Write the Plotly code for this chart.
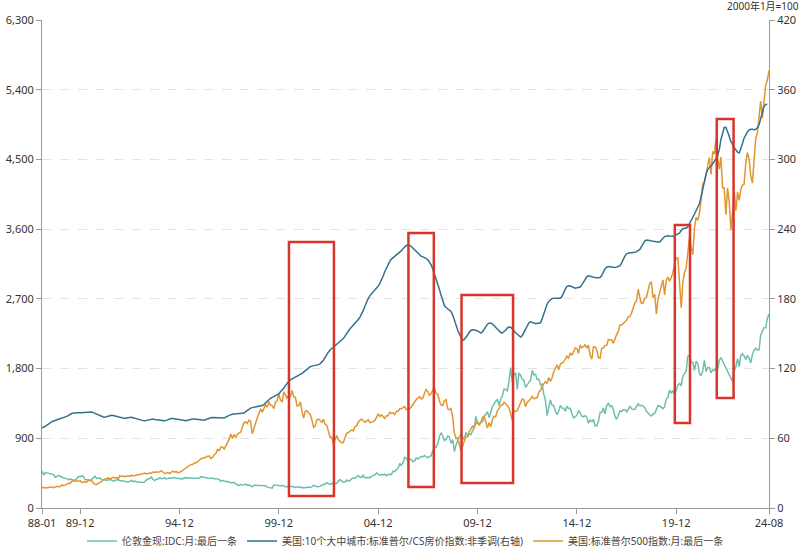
import pandas as pd
import plotly.graph_objects as go

# ---------------- data (monthly, 1988-01 .. 2024-08) ----------------
gold = [
    476, 426, 457, 451, 451, 436, 437, 431, 397, 412, 420, 410,
    394, 387, 383, 378, 362, 373, 368, 359, 366, 376, 409, 401,
    415, 407, 368, 368, 363, 352, 372, 387, 408, 380, 384, 386,
    366, 363, 355, 357, 361, 368, 362, 347, 354, 358, 366, 353,
    354, 353, 341, 336, 337, 343, 357, 340, 349, 339, 334, 333,
    330, 328, 337, 355, 378, 378, 401, 371, 355, 370, 371, 391,
    378, 381, 392, 376, 387, 388, 384, 386, 394, 383, 383, 383,
    375, 376, 392, 389, 385, 387, 383, 383, 384, 383, 387, 387,
    405, 400, 396, 392, 391, 382, 386, 387, 379, 379, 371, 369,
    345, 358, 349, 340, 345, 334, 326, 325, 332, 311, 296, 290,
    304, 297, 301, 309, 294, 296, 288, 273, 294, 292, 294, 288,
    287, 287, 280, 286, 269, 262, 255, 255, 299, 300, 292, 290,
    284, 293, 279, 274, 272, 288, 277, 277, 274, 265, 270, 273,
    264, 267, 258, 263, 267, 271, 266, 273, 293, 279, 275, 277,
    282, 297, 301, 309, 326, 319, 305, 312, 324, 317, 319, 347,
    368, 347, 334, 336, 361, 346, 354, 375, 388, 384, 397, 417,
    399, 396, 424, 388, 394, 395, 391, 408, 416, 426, 453, 438,
    422, 435, 428, 436, 417, 435, 430, 433, 473, 470, 495, 513,
    569, 556, 582, 654, 644, 613, 633, 624, 599, 604, 646, 632,
    650, 665, 662, 679, 660, 650, 665, 673, 743, 789, 783, 834,
    923, 971, 933, 871, 885, 930, 918, 834, 884, 730, 814, 870,
    919, 952, 916, 884, 975, 935, 955, 949, 996, 1040, 1182, 1088,
    1078, 1109, 1113, 1180, 1208, 1244, 1169, 1246, 1307, 1346, 1386, 1405,
    1327, 1411, 1439, 1535, 1536, 1505, 1628, 1813, 1620, 1722, 1746, 1531,
    1744, 1711, 1662, 1651, 1558, 1598, 1622, 1648, 1776, 1720, 1726, 1657,
    1664, 1588, 1598, 1469, 1394, 1192, 1314, 1396, 1327, 1324, 1253, 1204,
    1251, 1326, 1291, 1288, 1250, 1315, 1285, 1286, 1216, 1164, 1175, 1199,
    1260, 1214, 1187, 1180, 1191, 1171, 1095, 1135, 1114, 1142, 1062, 1060,
    1118, 1234, 1233, 1290, 1215, 1321, 1351, 1309, 1322, 1272, 1178, 1146,
    1211, 1255, 1245, 1267, 1267, 1242, 1270, 1311, 1283, 1271, 1275, 1302,
    1345, 1318, 1325, 1315, 1298, 1250, 1224, 1201, 1187, 1214, 1222, 1281,
    1321, 1316, 1295, 1283, 1306, 1409, 1427, 1520, 1485, 1511, 1463, 1517,
    1587, 1609, 1577, 1702, 1730, 1768, 1962, 1967, 1886, 1879, 1776, 1895,
    1863, 1734, 1708, 1769, 1906, 1763, 1814, 1814, 1743, 1783, 1774, 1806,
    1796, 1909, 1942, 1897, 1847, 1807, 1766, 1711, 1660, 1633, 1768, 1824,
    1929, 1826, 1969, 1990, 1962, 1919, 1965, 1940, 1871, 1983, 2036, 2063,
    2039, 2044, 2230, 2286, 2327, 2326, 2447, 2503,
]

cs10 = [
    68.9, 69.4, 70.2, 71.3, 72.4, 73.5, 74.3, 74.9, 75.4, 75.8, 76.0, 76.4,
    76.8, 77.2, 77.9, 78.8, 79.8, 80.7, 81.3, 81.7, 82.0, 82.1, 82.0, 81.9,
    82.0, 81.9, 82.0, 82.3, 82.6, 82.7, 82.6, 82.1, 81.4, 80.7, 80.0, 79.4,
    78.8, 78.3, 78.1, 78.6, 79.2, 79.6, 79.8, 79.6, 79.3, 78.9, 78.4, 78.0,
    77.6, 77.2, 77.0, 77.4, 77.8, 78.1, 78.0, 77.6, 77.1, 76.6, 76.2, 76.0,
    75.6, 75.2, 75.0, 75.3, 75.9, 76.3, 76.5, 76.5, 76.2, 75.9, 75.7, 75.6,
    75.3, 75.0, 75.0, 75.4, 76.1, 76.7, 77.0, 77.0, 76.8, 76.5, 76.1, 75.8,
    75.5, 75.2, 75.0, 75.1, 75.5, 76.0, 76.4, 76.6, 76.5, 76.3, 76.1, 75.9,
    75.7, 75.5, 75.6, 76.1, 76.8, 77.3, 77.6, 77.8, 77.7, 77.6, 77.5, 77.4,
    77.3, 77.2, 77.4, 78.2, 79.1, 79.8, 80.3, 80.6, 80.7, 80.8, 80.8, 80.9,
    81.0, 81.2, 81.8, 82.9, 84.2, 85.3, 86.0, 86.4, 86.6, 86.8, 87.0, 87.4,
    87.8, 88.2, 89.0, 90.5, 92.0, 93.3, 94.4, 95.2, 95.9, 96.5, 97.2, 98.1,
    100.0, 101.2, 103.0, 105.3, 107.4, 109.0, 110.2, 111.0, 111.6, 112.2, 113.0, 114.0,
    115.0, 115.8, 116.9, 118.3, 119.7, 120.9, 121.6, 122.1, 122.3, 122.5, 122.8, 123.4,
    124.3, 125.4, 127.2, 129.6, 132.2, 134.3, 136.0, 137.3, 138.4, 139.4, 140.4, 141.6,
    143.0, 144.2, 145.8, 147.9, 150.4, 152.6, 154.3, 155.8, 157.3, 158.8, 160.5, 162.3,
    164.3, 166.6, 169.8, 173.7, 177.3, 180.3, 182.6, 184.2, 185.5, 187.0, 188.8, 191.0,
    193.4, 196.0, 199.4, 203.3, 206.8, 209.8, 212.3, 214.2, 215.4, 216.5, 217.8, 219.0,
    220.5, 221.5, 223.2, 224.8, 225.9, 226.3, 226.1, 225.1, 223.6, 221.9, 220.2, 219.0,
    217.9, 216.6, 216.1, 215.6, 214.9, 213.6, 211.9, 209.2, 205.7, 201.6, 197.0, 192.8,
    188.0, 182.8, 177.8, 174.2, 172.5, 171.5, 170.7, 169.1, 166.0, 161.4, 156.8, 153.2,
    149.8, 146.2, 144.4, 145.0, 146.5, 148.9, 151.2, 152.8, 153.4, 153.3, 153.0, 152.4,
    151.4, 150.5, 151.5, 154.1, 156.6, 158.2, 159.1, 159.3, 158.3, 156.8, 155.2, 153.9,
    152.4, 151.0, 150.6, 151.7, 153.0, 154.9, 155.8, 155.6, 154.4, 152.7, 150.8, 149.6,
    148.1, 147.2, 148.3, 150.9, 154.2, 157.2, 159.3, 160.2, 160.0, 159.3, 158.6, 158.8,
    158.8, 159.4, 162.6, 167.3, 171.7, 175.4, 177.8, 179.3, 180.2, 180.5, 180.4, 180.1,
    180.4, 180.5, 182.0, 185.5, 188.4, 190.5, 191.2, 191.0, 190.5, 189.8, 189.2, 189.5,
    189.7, 190.2, 192.0, 194.7, 197.1, 198.9, 199.8, 199.7, 199.1, 198.6, 198.2, 198.1,
    198.2, 198.5, 200.1, 203.2, 205.8, 207.2, 207.8, 207.6, 207.2, 206.9, 207.0, 207.3,
    207.7, 208.6, 210.8, 214.0, 216.8, 218.7, 219.5, 219.6, 219.7, 219.8, 220.1, 220.7,
    221.5, 222.6, 225.0, 227.7, 229.7, 230.6, 230.6, 230.2, 229.8, 229.5, 229.2, 229.1,
    228.9, 229.0, 230.1, 232.1, 233.6, 234.2, 234.3, 234.0, 233.8, 233.8, 234.2, 234.9,
    235.8, 236.8, 238.8, 240.4, 240.7, 240.8, 242.0, 244.5, 247.6, 250.5, 253.0, 256.0,
    258.6, 262.0, 267.5, 274.4, 281.0, 287.2, 291.3, 293.4, 294.6, 296.3, 298.3, 300.7,
    303.5, 308.9, 317.0, 323.9, 327.5, 327.7, 324.6, 320.0, 315.5, 312.5, 310.2, 308.3,
    306.2, 305.6, 308.9, 313.7, 318.4, 321.6, 323.7, 325.2, 326.0, 326.0, 325.6, 326.0,
    327.3, 330.0, 335.5, 341.5, 345.7, 347.3, 347.4, None,
]

spx = [
    257.07, 267.82, 258.89, 261.33, 262.16, 273.50, 272.02, 261.52, 271.91, 278.97, 273.70, 277.72,
    297.47, 288.86, 294.87, 309.64, 320.52, 317.98, 346.08, 351.45, 349.15, 340.36, 345.99, 353.40,
    329.08, 331.89, 339.94, 330.80, 361.23, 358.02, 356.15, 322.56, 306.05, 304.00, 322.22, 330.22,
    343.93, 367.07, 375.22, 375.34, 389.83, 371.16, 387.81, 395.43, 387.86, 392.45, 375.22, 417.09,
    408.79, 412.70, 403.69, 414.95, 415.35, 408.14, 424.21, 414.03, 417.80, 418.68, 431.35, 435.71,
    438.78, 443.38, 451.67, 440.19, 450.19, 450.53, 448.13, 463.56, 458.93, 467.83, 461.79, 466.45,
    481.61, 467.14, 445.77, 450.91, 456.50, 444.27, 458.26, 475.49, 462.69, 472.35, 453.69, 459.27,
    470.42, 487.39, 500.71, 514.71, 533.40, 544.75, 562.06, 561.88, 584.41, 581.50, 605.37, 615.93,
    636.02, 640.43, 645.50, 654.17, 669.12, 670.63, 639.95, 651.99, 687.33, 705.27, 757.02, 740.74,
    786.16, 790.82, 757.12, 801.34, 848.28, 885.14, 954.31, 899.47, 947.28, 914.62, 955.40, 970.43,
    980.28, 1049.34, 1101.75, 1111.75, 1090.82, 1133.84, 1120.67, 957.28, 1017.01, 1098.67, 1163.63, 1229.23,
    1279.64, 1238.33, 1286.37, 1335.18, 1301.84, 1372.71, 1328.72, 1320.41, 1282.71, 1362.93, 1388.91, 1469.25,
    1394.46, 1366.42, 1498.58, 1452.43, 1420.60, 1454.60, 1430.83, 1517.68, 1436.51, 1429.40, 1314.95, 1320.28,
    1366.01, 1239.94, 1160.33, 1249.46, 1255.82, 1224.38, 1211.23, 1133.58, 1040.94, 1059.78, 1139.45, 1148.08,
    1130.20, 1106.73, 1147.39, 1076.92, 1067.14, 989.82, 911.62, 916.07, 815.28, 885.76, 936.31, 879.82,
    855.70, 841.15, 848.18, 916.92, 963.59, 974.50, 990.31, 1008.01, 995.97, 1050.71, 1058.20, 1111.92,
    1131.13, 1144.94, 1126.21, 1107.30, 1120.68, 1140.84, 1101.72, 1104.24, 1114.58, 1130.20, 1173.82, 1211.92,
    1181.27, 1203.60, 1180.59, 1156.85, 1191.50, 1191.33, 1234.18, 1220.33, 1228.81, 1207.01, 1249.48, 1248.29,
    1280.08, 1280.66, 1294.87, 1310.61, 1270.09, 1270.20, 1276.66, 1303.82, 1335.85, 1377.94, 1400.63, 1418.30,
    1438.24, 1406.82, 1420.86, 1482.37, 1530.62, 1503.35, 1455.27, 1473.99, 1526.75, 1549.38, 1481.14, 1468.36,
    1378.55, 1330.63, 1322.70, 1385.59, 1400.38, 1280.00, 1267.38, 1282.83, 1166.36, 968.75, 896.24, 903.25,
    825.88, 735.09, 797.87, 872.81, 919.14, 919.32, 987.48, 1020.62, 1057.08, 1036.19, 1095.63, 1115.10,
    1073.87, 1104.49, 1169.43, 1186.69, 1089.41, 1030.71, 1101.60, 1049.33, 1141.20, 1183.26, 1180.55, 1257.64,
    1286.12, 1327.22, 1325.83, 1363.61, 1345.20, 1320.64, 1292.28, 1218.89, 1131.42, 1253.30, 1246.96, 1257.60,
    1312.41, 1365.68, 1408.47, 1397.91, 1310.33, 1362.16, 1379.32, 1406.58, 1440.67, 1412.16, 1416.18, 1426.19,
    1498.11, 1514.68, 1569.19, 1597.57, 1630.74, 1606.28, 1685.73, 1632.97, 1681.55, 1756.54, 1805.81, 1848.36,
    1782.59, 1859.45, 1872.34, 1883.95, 1923.57, 1960.23, 1930.67, 2003.37, 1972.29, 2018.05, 2067.56, 2058.90,
    1994.99, 2104.50, 2067.89, 2085.51, 2107.39, 2063.11, 2103.84, 1972.18, 1920.03, 2079.36, 2080.41, 2043.94,
    1940.24, 1932.23, 2059.74, 2065.30, 2096.95, 2098.86, 2173.60, 2170.95, 2168.27, 2126.15, 2198.81, 2238.83,
    2278.87, 2363.64, 2362.72, 2384.20, 2411.80, 2423.41, 2470.30, 2471.65, 2519.36, 2575.26, 2647.58, 2673.61,
    2823.81, 2713.83, 2640.87, 2648.05, 2705.27, 2718.37, 2816.29, 2901.52, 2913.98, 2711.74, 2760.17, 2506.85,
    2704.10, 2784.49, 2834.40, 2945.83, 2752.06, 2941.76, 2980.38, 2926.46, 2976.74, 3037.56, 3140.98, 3230.78,
    3225.52, 2954.22, 2584.59, 2912.43, 3044.31, 3100.29, 3271.12, 3500.31, 3363.00, 3269.96, 3621.63, 3756.07,
    3714.24, 3811.15, 3972.89, 4181.17, 4204.11, 4297.50, 4395.26, 4522.68, 4307.54, 4605.38, 4567.00, 4766.18,
    4515.55, 4373.94, 4530.41, 4131.93, 4132.15, 3785.38, 4130.29, 3955.00, 3585.62, 3871.98, 4080.11, 3839.50,
    4076.60, 3970.15, 4109.31, 4169.48, 4179.83, 4450.38, 4588.96, 4507.66, 4288.05, 4193.80, 4567.80, 4769.83,
    4845.65, 5096.27, 5254.35, 5035.69, 5277.51, 5460.48, 5522.30, 5648.40,
]

dates = pd.date_range("1988-01-01", periods=len(spx), freq="MS")

x_tick_vals = ["1988-01-01", "1989-12-01", "1994-12-01", "1999-12-01", "2004-12-01",
               "2009-12-01", "2014-12-01", "2019-12-01", "2024-08-01"]
x_tick_text = ["88-01", "89-12", "94-12", "99-12", "04-12", "09-12", "14-12", "19-12", "24-08"]

left_ticks = [0, 900, 1800, 2700, 3600, 4500, 5400, 6300]
right_ticks = [0, 60, 120, 180, 240, 300, 360, 420]

names = ["伦敦金现:IDC:月:最后一条",
         "美国:10个大中城市:标准普尔/CS房价指数:非季调(右轴)",
         "美国:标准普尔500指数:月:最后一条"]

# highlight boxes: (start, end, low, high) in left-axis units
boxes = [
    ("2000-06-05", "2002-09-10", 155, 3434),
    ("2006-06-10", "2007-09-20", 271, 3550),
    ("2009-02-10", "2011-09-15", 323, 2750),
    ("2019-11-05", "2020-08-10", 1097, 3653),
    ("2021-12-15", "2022-10-20", 1420, 5022),
]

# ---------------- figure ----------------
FONT = "Noto Sans, Noto Sans CJK SC, sans-serif"
fig = go.Figure()
fig.add_trace(go.Scatter(x=dates, y=gold, name=names[0], mode="lines",
                         line=dict(color="#6dbfae", width=1.5)))
fig.add_trace(go.Scatter(x=dates, y=cs10, name=names[1], mode="lines", yaxis="y2",
                         line=dict(color="#33718f", width=1.5)))
fig.add_trace(go.Scatter(x=dates, y=spx, name=names[2], mode="lines",
                         line=dict(color="#e3952f", width=1.5)))

for x0, x1, y0, y1 in boxes:
    fig.add_shape(type="rect", xref="x", yref="y", x0=x0, x1=x1, y0=y0, y1=y1,
                  line=dict(color="#d8352b", width=2.5), fillcolor="rgba(0,0,0,0)")

fig.update_layout(
    width=802, height=551,
    margin=dict(l=42, r=33, t=20, b=43, autoexpand=False),
    paper_bgcolor="white", plot_bgcolor="white",
    font=dict(family=FONT, size=11, color="#333"),
    showlegend=True,
    legend=dict(orientation="h", x=0.5, xanchor="center", y=-0.038, yanchor="top",
                font=dict(size=10, color="#444"), itemwidth=30, tracegroupgap=0),
    xaxis=dict(type="date", range=["1988-01-01", "2024-08-01"],
               tickvals=x_tick_vals, ticktext=x_tick_text,
               showgrid=False, showline=True, linecolor="#999", linewidth=1,
               ticks="outside", ticklen=5, tickcolor="#999",
               tickfont=dict(size=11, color="#333"), zeroline=False),
    yaxis=dict(range=[0, 6300], tickvals=left_ticks, tickformat=",",
               showgrid=True, gridcolor="#e3e3e3", griddash="dash", gridwidth=1,
               showline=True, linecolor="#999", linewidth=1,
               ticks="outside", ticklen=5, tickcolor="#999", zeroline=False,
               tickfont=dict(size=11, color="#333")),
    yaxis2=dict(range=[0, 420], tickvals=right_ticks, overlaying="y", side="right",
                showgrid=False, showline=True, linecolor="#999", linewidth=1,
                ticks="outside", ticklen=5, tickcolor="#999", zeroline=False,
                tickfont=dict(size=11, color="#333")),
    annotations=[dict(text="2000年1月=100", xref="paper", yref="paper", x=1.0, y=1.0,
                      xanchor="right", yanchor="middle", xshift=31, yshift=14,
                      showarrow=False, borderpad=0, font=dict(size=10, color="#333"))],
)

fig.write_html("out.html")
